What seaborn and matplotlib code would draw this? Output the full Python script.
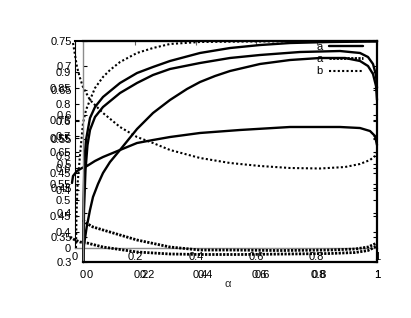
import matplotlib
matplotlib.use("Agg")
import matplotlib.pyplot as plt
import seaborn as sns

# --- data (x = alpha, y on the main 0.3..0.75 scale) ---
a1_x = [0.0010, 0.0020, 0.0051, 0.0102, 0.0238, 0.0408, 0.0680, 0.1259, 0.1837, 0.2381, 0.2959,
        0.3980, 0.5000, 0.6020, 0.7041, 0.8401, 1.0]
a1_y = [0.300, 0.4262, 0.5077, 0.5484, 0.5932, 0.6156, 0.6360, 0.6645, 0.6848, 0.6971, 0.7093,
        0.7256, 0.7357, 0.7418, 0.7459, 0.7480, 0.7490]

a2_x = [0.0017, 0.0034, 0.0085, 0.0153, 0.0238, 0.0408, 0.0680, 0.1259, 0.1837, 0.2381, 0.2959,
        0.3980, 0.5000, 0.6020, 0.7381, 0.8741, 0.9422, 0.9694, 0.9864, 0.9966, 1.0]
a2_y = [0.300, 0.4059, 0.4873, 0.5382, 0.5688, 0.5952, 0.6156, 0.6441, 0.6645, 0.6808, 0.6930,
        0.7052, 0.7154, 0.7215, 0.7276, 0.7296, 0.7256, 0.7174, 0.7032, 0.6808, 0.6543]

a3_x = [0.0010, 0.0034, 0.0126, 0.0238, 0.0340, 0.0510, 0.0680, 0.0918, 0.1259, 0.1837, 0.2381,
        0.2959, 0.3537, 0.3980, 0.4490, 0.5000, 0.6020, 0.7041, 0.8061, 0.8912, 0.9422, 0.9694,
        0.9864, 0.9966, 1.0]
a3_y = [0.300, 0.3346, 0.3713, 0.4059, 0.4324, 0.4588, 0.4812, 0.5036, 0.5281, 0.5708, 0.6034,
        0.6299, 0.6523, 0.6665, 0.6787, 0.6889, 0.7032, 0.7113, 0.7154, 0.7154, 0.7093, 0.6991,
        0.6828, 0.6584, 0.6299]

a4_x = [-0.0374, -0.0340, -0.0204, -0.0034, 0.0136, 0.0408, 0.0680, 0.1259, 0.1837, 0.2381, 0.2959,
        0.3980, 0.5340, 0.7041, 0.8741, 0.9422, 0.9762, 0.9932, 1.0]
a4_y = [0.4609, 0.4751, 0.4853, 0.4914, 0.4955, 0.5057, 0.5138, 0.5281, 0.5423, 0.5484, 0.5545,
        0.5627, 0.5688, 0.5749, 0.5749, 0.5728, 0.5667, 0.5566, 0.5382]

b1_x = [-0.0238, -0.0221, -0.0187, -0.0102, 0.0, 0.0102, 0.0238, 0.0408, 0.0680, 0.0918, 0.1259,
        0.1837, 0.2381, 0.2959, 0.3980, 0.5680, 1.0]
b1_y = [0.3285, 0.3957, 0.4568, 0.5179, 0.5830, 0.6095, 0.6299, 0.6543, 0.6767, 0.6909, 0.7072,
        0.7256, 0.7357, 0.7439, 0.7480, 0.7490, 0.7500]

b2_x = [-0.0340, -0.0272, -0.0204, -0.0102, 0.0, 0.0238, 0.0680, 0.1259, 0.1837, 0.2381, 0.2959,
        0.3980, 0.5000, 0.6020, 0.7041, 0.8061, 0.8912, 0.9422, 0.9762, 0.9932, 1.0]
b2_y = [0.7459, 0.7215, 0.6971, 0.6747, 0.6563, 0.6299, 0.6034, 0.5749, 0.5545, 0.5423, 0.5281,
        0.5118, 0.5016, 0.4955, 0.4914, 0.4904, 0.4934, 0.4996, 0.5077, 0.5158, 0.5240]

c1_x = [0.0, 0.0102, 0.0340, 0.0680, 0.1259, 0.1837, 0.2959, 0.3980, 0.5000, 0.6701, 0.8401,
        0.9252, 0.9694, 1.0]
c1_y = [0.3855, 0.3794, 0.3713, 0.3652, 0.3550, 0.3448, 0.3305, 0.3244, 0.3244, 0.3234, 0.3244,
        0.3265, 0.3305, 0.3387]

c2_x = [-0.0442, -0.0272, -0.0102, 0.0136, 0.0680, 0.1837, 0.2959, 0.3980, 0.5340, 0.7041, 0.8401,
        0.9252, 0.9694, 1.0]
c2_y = [0.3509, 0.3448, 0.3407, 0.3387, 0.3305, 0.3204, 0.3163, 0.3153, 0.3153, 0.3163, 0.3173,
        0.3193, 0.3234, 0.3326]

x_ticks = [0, 0.2, 0.4, 0.6, 0.8, 1]
x_labels = ["0", "0.2", "0.4", "0.6", "0.8", "1"]
ya_ticks = [0.3, 0.35, 0.4, 0.45, 0.5, 0.55, 0.6, 0.65, 0.7, 0.75]
ya_labels = ["0.3", "0.35", "0.4", "0.45", "0.5", "0.55", "0.6", "0.65", "0.7", "0.75"]
yc_ticks = [0.4, 0.45, 0.5, 0.55, 0.6, 0.65, 0.7, 0.75, 0.8, 0.85, 0.9]
yc_labels = ["0.4", "0.45", "0.5", "0.55", "0.6", "0.65", "0.7", "0.75", "0.8", "0.85", "0.9"]
yd_ticks = [0.4, 0.45, 0.5, 0.55, 0.6]
yd_labels = ["0.4", "0.45", "0.5", "0.55", "0.6"]
legend_labels = ["a", "a", "b"]

sns.set_style("white")
plt.rcParams["font.family"] = ["Liberation Sans", "DejaVu Sans"]
plt.rcParams["font.size"] = 8
plt.rcParams["text.color"] = "black"
plt.rcParams["xtick.color"] = "black"
plt.rcParams["ytick.color"] = "black"

W, H = 411, 318
fig = plt.figure(figsize=(W / 100, H / 100), dpi=100)
fig.patch.set_facecolor("white")

rect_b = [75 / W, 70 / H, 302 / W, 207 / H]
ax_b = fig.add_axes(rect_b)
ax_c = fig.add_axes(rect_b)
ax_d = fig.add_axes(rect_b)
ax_a2 = fig.add_axes([90 / W, 56 / H, 287 / W, 221 / H])
ax = fig.add_axes([83 / W, 56 / H, 294 / W, 221 / H])

for a in (ax_b, ax_c, ax_d, ax_a2, ax):
    a.set_facecolor("none")

# grey inner frame with its own labels
ax_b.set_xlim(0, 1)
ax_b.set_ylim(0, 1)
ax_b.set_xticks(x_ticks)
ax_b.set_xticklabels(x_labels)
ax_b.set_yticks([0])
ax_b.set_yticklabels(["0"])
ax_b.tick_params(axis="x", direction="in", top=True, length=3, pad=3, labelsize=8, color="0.4")
ax_b.tick_params(axis="y", direction="in", length=0, pad=3, labelsize=8)
ax_b.spines["left"].set_color("black")
ax_b.spines["left"].set_linewidth(0.8)
ax_b.spines["bottom"].set_color("0.55")
ax_b.spines["bottom"].set_linewidth(1.0)
ax_b.spines["top"].set_linewidth(1.5)
ax_b.spines["top"].set_color("black")
ax_b.spines["right"].set_visible(False)

# extra overlaid y label sets
for a, lim, ticks, labels in ((ax_c, (0.35, 0.997), yc_ticks, yc_labels),
                              (ax_d, (0.231, 0.833), yd_ticks, yd_labels)):
    a.set_xlim(0, 1)
    a.set_ylim(*lim)
    a.set_xticks([])
    a.set_yticks(ticks)
    a.set_yticklabels(labels)
    a.tick_params(axis="y", direction="in", left=True, right=True, length=3, pad=3, labelsize=8)
    for s in a.spines.values():
        s.set_visible(False)

ax_a2.set_xlim(0, 1)
ax_a2.set_xticks(x_ticks)
ax_a2.set_xticklabels(x_labels)
ax_a2.set_yticks([])
ax_a2.tick_params(axis="x", length=0, pad=6, labelsize=8)
for s in ax_a2.spines.values():
    s.set_visible(False)

# main curves
solid = dict(color="black", lw=1.7, clip_on=False)
dotted = dict(color="black", lw=1.5, ls=(0, (1, 1.1)), clip_on=False)
dense = dict(color="black", lw=2.0, ls=(0, (0.8, 0.5)), clip_on=False)

sns.lineplot(x=a1_x, y=a1_y, ax=ax, **solid)
sns.lineplot(x=a2_x, y=a2_y, ax=ax, **solid)
sns.lineplot(x=a3_x, y=a3_y, ax=ax, **solid)
sns.lineplot(x=a4_x, y=a4_y, ax=ax, **solid)
sns.lineplot(x=b1_x, y=b1_y, ax=ax, **dotted)
sns.lineplot(x=b2_x, y=b2_y, ax=ax, **dotted)
sns.lineplot(x=c1_x, y=c1_y, ax=ax, **dense)
sns.lineplot(x=c2_x, y=c2_y, ax=ax, **dense)

ax.set_xlim(0, 1)
ax.set_ylim(0.3, 0.75)
ax.set_xticks(x_ticks)
ax.set_xticklabels(x_labels)
ax.set_yticks(ya_ticks)
ax.set_yticklabels(ya_labels)
ax.tick_params(axis="x", direction="in", length=3, pad=6, labelsize=8)
ax.tick_params(axis="y", direction="in", left=True, right=True, length=3, pad=8, labelsize=8)
for s in ("top", "right", "bottom"):
    ax.spines[s].set_color("black")
    ax.spines[s].set_linewidth(1.6)
ax.spines["left"].set_color("0.55")
ax.spines["left"].set_linewidth(1.0)

ax.set_xlabel("\u03b1", fontsize=8)
ax.xaxis.set_label_coords(0.493, -0.077)
ax.set_ylabel("")

lines = ax.get_lines()
handles = [lines[0], lines[6], lines[4]]
ax.legend(handles, legend_labels, loc="upper right", frameon=False,
          bbox_to_anchor=(363 / W, (H - 42) / H), bbox_transform=fig.transFigure,
          markerfirst=False, handlelength=3.1, handletextpad=0.5,
          labelspacing=0.2, borderpad=0, borderaxespad=0, fontsize=8)

fig.savefig("out.png", dpi=100)
